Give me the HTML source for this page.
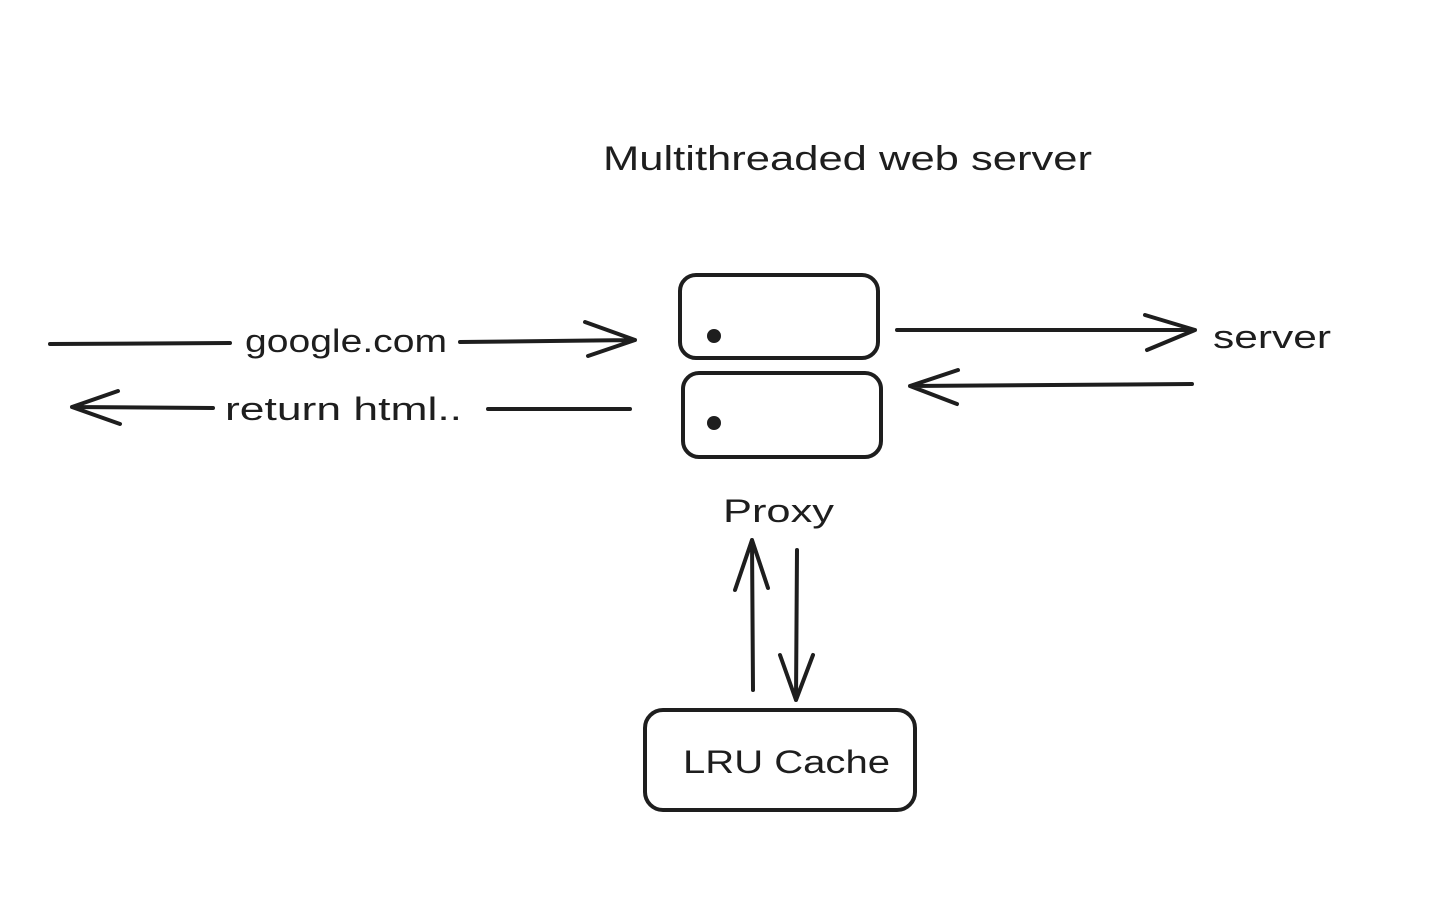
<!DOCTYPE html>
<html><head><meta charset="utf-8"><style>
html,body{margin:0;padding:0;background:#fff;}
svg{display:block;}
text{font-family:"Liberation Sans",sans-serif;fill:#1e1e1e;}
</style></head><body>
<svg width="1434" height="910" viewBox="0 0 1434 910" xmlns="http://www.w3.org/2000/svg">
<g fill="none" stroke="#1e1e1e" stroke-width="4" stroke-linecap="round" stroke-linejoin="round">
<rect x="680" y="275" width="198" height="83" rx="16"/>
<rect x="683" y="373" width="198" height="84" rx="16"/>
<rect x="645" y="710" width="270" height="100" rx="18"/>
<!-- google.com -->
<path d="M50 344 L230 343"/>
<path d="M460 342 L635 340 M585 322 L635 340 L588 356"/>
<!-- return html -->
<path d="M630 409 L488 409"/>
<path d="M213 408 L72 407 M118 391 L72 407 L120 424"/>
<!-- to server -->
<path d="M897 330 L1195 330 M1145 315 L1195 330 L1147 350"/>
<!-- from server -->
<path d="M1192 384 L910 386 M958 370 L910 386 L957 404"/>
<!-- up arrow -->
<path d="M753 690 L752 540 M735 590 L752 540 L768 588"/>
<!-- down arrow -->
<path d="M797 550 L796 700 M780 655 L796 700 L813 655"/>
</g>
<circle cx="714" cy="336" r="7" fill="#1e1e1e"/>
<circle cx="714" cy="423" r="7" fill="#1e1e1e"/>
<text x="603" y="170" font-size="34" textLength="489" lengthAdjust="spacingAndGlyphs">Multithreaded web server</text>
<text x="245" y="352" font-size="32" textLength="202" lengthAdjust="spacingAndGlyphs">google.com</text>
<text x="225" y="420" font-size="32" textLength="237" lengthAdjust="spacingAndGlyphs">return html..</text>
<text x="1213" y="348" font-size="32" textLength="118" lengthAdjust="spacingAndGlyphs">server</text>
<text x="723" y="522" font-size="32" textLength="111" lengthAdjust="spacingAndGlyphs">Proxy</text>
<text x="683" y="773" font-size="32" textLength="207" lengthAdjust="spacingAndGlyphs">LRU Cache</text>
</svg>
</body></html>
